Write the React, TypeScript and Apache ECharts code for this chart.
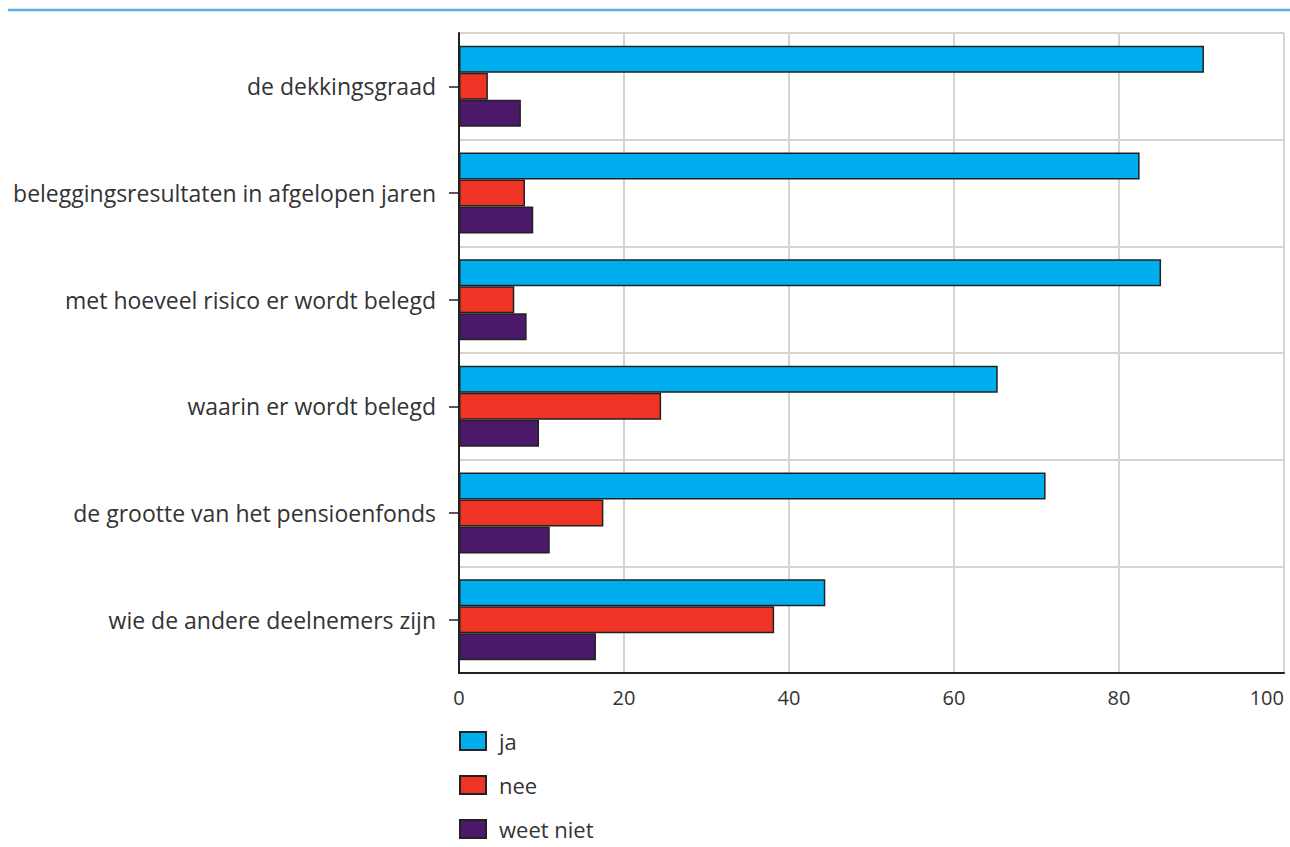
import React, { useEffect, useRef } from "react";
import * as echarts from "echarts";

const categories = [
  "de dekkingsgraad",
  "beleggingsresultaten in afgelopen jaren",
  "met hoeveel risico er wordt belegd",
  "waarin er wordt belegd",
  "de grootte van het pensioenfonds",
  "wie de andere deelnemers zijn",
];
const ja = [90.3, 82.5, 85.1, 65.3, 71.1, 44.4];
const nee = [3.5, 8.0, 6.7, 24.5, 17.5, 38.2];
const weetNiet = [7.5, 9.0, 8.2, 9.7, 11.0, 16.6];
const seriesNames = ["ja", "nee", "weet niet"];
const seriesColors = ["#00aeef", "#ef3324", "#4b186a"];

export default function App() {
  const ref = useRef<HTMLDivElement>(null);
  useEffect(() => {
    if (!ref.current) return;
    const chart = echarts.init(ref.current, null, { renderer: "svg" });
    const values = [ja, nee, weetNiet];
    chart.setOption({
      animation: false,
      backgroundColor: "#ffffff",
      textStyle: { fontFamily: "Open Sans" },
      graphic: [
        {
          type: "line",
          shape: { x1: 8, y1: 10, x2: 1290, y2: 10 },
          style: { stroke: "#5ab4e2", lineWidth: 2.5 },
        },
      ],
      grid: { left: 459, right: 6, top: 33, bottom: 174, containLabel: false, outerBoundsMode: "none" },
      legend: {
        orient: "vertical",
        left: 459,
        top: 730,
        padding: 0,
        itemWidth: 26,
        itemHeight: 18,
        itemGap: 22,
        icon: "rect",
        data: seriesNames,
        textStyle: { fontSize: 22, lineHeight: 22, color: "#333333", fontFamily: "Open Sans", padding: [0, 0, 0, 8] },
      },
      xAxis: {
        type: "value",
        min: 0,
        max: 100,
        interval: 20,
        axisLine: { show: true, lineStyle: { color: "#222222", width: 2 } },
        axisTick: { show: false },
        axisLabel: { fontSize: 20, color: "#333333", margin: 14, fontFamily: "Open Sans", alignMaxLabel: "right" },
        splitLine: { show: true, lineStyle: { color: "#d4d4d4", width: 2 } },
      },
      yAxis: {
        type: "category",
        data: categories,
        inverse: true,
        axisLine: { show: true, lineStyle: { color: "#222222", width: 2 } },
        axisTick: { show: true, alignWithLabel: true, length: 10, lineStyle: { color: "#222222", width: 1.5 } },
        axisLabel: { fontSize: 23, color: "#333333", margin: 23, fontFamily: "Open Sans" },
        splitLine: { show: true, lineStyle: { color: "#d4d4d4", width: 2 } },
      },
      series: seriesNames.map((name, i) => ({
        name,
        type: "bar",
        data: values[i],
        barGap: "0%",
        barCategoryGap: "24%",
        itemStyle: { color: seriesColors[i], borderColor: "#222222", borderWidth: 1.5 },
      })),
    });
    return () => chart.dispose();
  }, []);
  return (
    <div
      ref={ref}
      style={{ position: "absolute", left: 0, top: 0, width: 1290, height: 847 }}
    />
  );
}
